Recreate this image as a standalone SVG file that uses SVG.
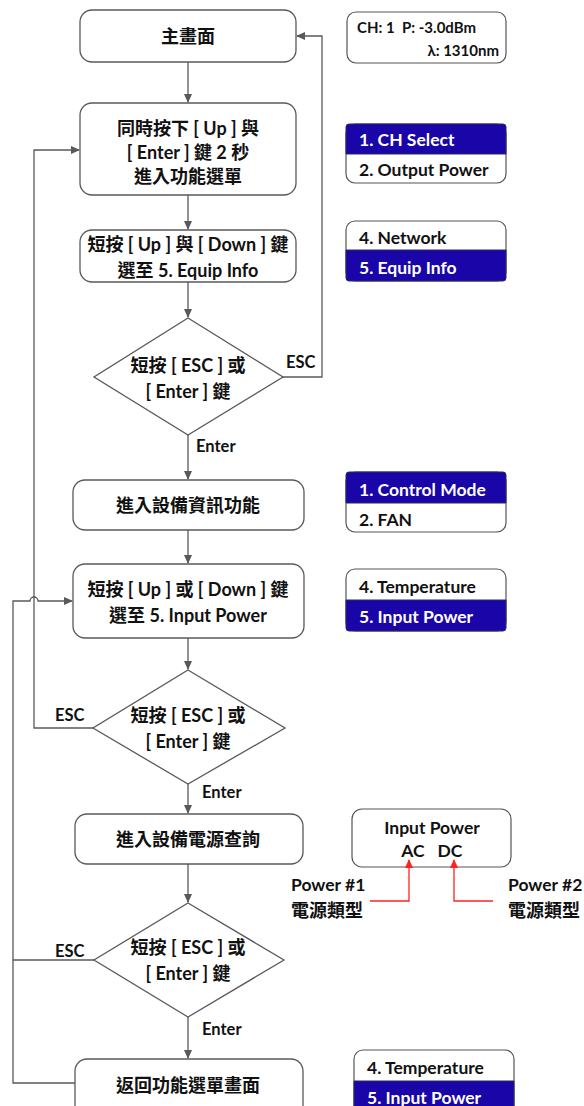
<svg xmlns="http://www.w3.org/2000/svg" width="584" height="1106" viewBox="0 0 584 1106">
<style>
.node{fill:#fff;stroke:#595959;stroke-width:1.3}
.t{font-family:"Lato","Noto Sans CJK TC",sans-serif;font-weight:bold;font-size:18px;fill:#111;text-anchor:middle}
.lbl{font-family:"Lato","Noto Sans CJK TC",sans-serif;font-weight:bold;font-size:16.5px;fill:#111}
.conn{fill:none;stroke:#595959;stroke-width:1.3}
.red{fill:none;stroke:#ff2020;stroke-width:1.3}
.pan{fill:#fff;stroke:#555;stroke-width:1.2}
.blue{fill:#1a05a8;stroke:#2a2a60;stroke-width:1}
.pt{font-family:"Lato","Noto Sans CJK TC",sans-serif;font-weight:bold;font-size:17.5px;fill:#111}
.pw{font-family:"Lato","Noto Sans CJK TC",sans-serif;font-weight:bold;font-size:17.5px;fill:#fff}
.ps{font-family:"Lato","Noto Sans CJK TC",sans-serif;font-weight:bold;font-size:15px;fill:#111}
</style>
<defs>
<marker id="ah" markerWidth="10" markerHeight="10" refX="8" refY="5" orient="auto" markerUnits="userSpaceOnUse">
<path d="M0,1 L9,5 L0,9 Z" fill="#595959"/>
</marker>
<marker id="ahr" markerWidth="10" markerHeight="10" refX="8" refY="5" orient="auto" markerUnits="userSpaceOnUse">
<path d="M0,1 L9,5 L0,9 Z" fill="#ff2020"/>
</marker>
</defs>

<g id="connectors">
<path class="conn" d="M188,62 V102" marker-end="url(#ah)"/>
<path class="conn" d="M188,195 V229" marker-end="url(#ah)"/>
<path class="conn" d="M188,282 V317" marker-end="url(#ah)"/>
<path class="conn" d="M283,377 H322 V36 H297" marker-end="url(#ah)"/>
<path class="conn" d="M188,435 V479" marker-end="url(#ah)"/>
<path class="conn" d="M188,530 V563" marker-end="url(#ah)"/>
<path class="conn" d="M188,638 V669" marker-end="url(#ah)"/>
<path class="conn" d="M93,728 H34 V150 H79" marker-end="url(#ah)"/>
<path class="conn" d="M188,784 V813" marker-end="url(#ah)"/>
<path class="conn" d="M188,864 V902" marker-end="url(#ah)"/>
<path class="conn" d="M188,1017 V1058" marker-end="url(#ah)"/>
<path class="conn" d="M94,960 H13"/>
<path class="conn" d="M75,1083 H13 V601 H30 A4,4 0 0 1 38,601 H72" marker-end="url(#ah)"/>
<text class="lbl" x="286" y="368">ESC</text>
<text class="lbl" x="196" y="452">Enter</text>
<text class="lbl" x="55" y="721">ESC</text>
<text class="lbl" x="202" y="798">Enter</text>
<text class="lbl" x="55" y="957">ESC</text>
<text class="lbl" x="202" y="1035">Enter</text>
</g>

<g id="n1"><rect class="node" x="80" y="10" width="216" height="52" rx="12"/><text class="t" x="188" y="43">主畫面</text></g>
<g id="n2"><rect class="node" x="80" y="103" width="216" height="92" rx="12"/>
<text class="t" x="188" y="135">同時按下 [ Up ] 與</text>
<text class="t" x="188" y="159">[ Enter ] 鍵 2 秒</text>
<text class="t" x="188" y="183">進入功能選單</text></g>
<g id="n3"><rect class="node" x="80" y="230" width="216" height="52" rx="12"/>
<text class="t" x="188" y="251">短按 [ Up ] 與 [ Down ] 鍵</text>
<text class="t" x="188" y="277">選至 5. Equip Info</text></g>
<g id="d1"><polygon class="node" points="188,318 283,377 188,435 94,377"/>
<text class="t" x="188" y="372">短按 [ ESC ] 或</text>
<text class="t" x="188" y="398">[ Enter ] 鍵</text></g>
<g id="n4"><rect class="node" x="73" y="480" width="231" height="50" rx="12"/><text class="t" x="188" y="512">進入設備資訊功能</text></g>
<g id="n5"><rect class="node" x="73" y="564" width="231" height="74" rx="12"/>
<text class="t" x="188" y="596">短按 [ Up ] 或 [ Down ] 鍵</text>
<text class="t" x="188" y="622">選至 5. Input Power</text></g>
<g id="d2"><polygon class="node" points="188,670 285,728 188,784 93,728"/>
<text class="t" x="188" y="722">短按 [ ESC ] 或</text>
<text class="t" x="188" y="748">[ Enter ] 鍵</text></g>
<g id="n6"><rect class="node" x="75" y="814" width="228" height="50" rx="12"/><text class="t" x="188" y="846">進入設備電源查詢</text></g>
<g id="d3"><polygon class="node" points="188,903 284,960 188,1017 94,960"/>
<text class="t" x="188" y="954">短按 [ ESC ] 或</text>
<text class="t" x="188" y="980">[ Enter ] 鍵</text></g>
<g id="n7"><rect class="node" x="75" y="1059" width="228" height="60" rx="12"/><text class="t" x="188" y="1092">返回功能選單畫面</text></g>

<g id="p1"><rect class="pan" x="347" y="12" width="159" height="51" rx="9"/>
<text class="ps" x="357" y="33" xml:space="preserve">CH: 1  P: -3.0dBm</text>
<text class="ps" x="499" y="56" text-anchor="end">λ: 1310nm</text></g>

<g id="p2"><rect class="pan" x="346" y="124" width="160" height="59" rx="9"/>
<path class="blue" d="M346,154 V127 A3,3 0 0 1 349,124 H503 A3,3 0 0 1 506,127 V154 Z"/>
<text class="pw" x="359" y="146">1. CH Select</text>
<text class="pt" x="359" y="176">2. Output Power</text></g>

<g id="p3"><rect class="pan" x="346" y="221" width="160" height="60" rx="9"/>
<path class="blue" d="M346,250 V278 A3,3 0 0 0 349,281 H503 A3,3 0 0 0 506,278 V250 Z"/>
<text class="pt" x="359" y="244">4. Network</text>
<text class="pw" x="359" y="274">5. Equip Info</text></g>

<g id="p4"><rect class="pan" x="346" y="472" width="160" height="60" rx="9"/>
<path class="blue" d="M346,503 V475 A3,3 0 0 1 349,472 H503 A3,3 0 0 1 506,475 V503 Z"/>
<text class="pw" x="359" y="496">1. Control Mode</text>
<text class="pt" x="359" y="526">2. FAN</text></g>

<g id="p5"><rect class="pan" x="346" y="569" width="160" height="62" rx="9"/>
<path class="blue" d="M346,600 V628 A3,3 0 0 0 349,631 H503 A3,3 0 0 0 506,628 V600 Z"/>
<text class="pt" x="359" y="593">4. Temperature</text>
<text class="pw" x="359" y="623">5. Input Power</text></g>

<g id="p6"><rect class="pan" x="352" y="809" width="159" height="58" rx="10"/>
<text class="pt" x="432" y="834" text-anchor="middle">Input Power</text>
<text class="pt" x="413" y="857" text-anchor="middle">AC</text>
<text class="pt" x="450" y="857" text-anchor="middle">DC</text>
<path class="red" d="M370,901 H409 V860" marker-end="url(#ahr)"/>
<path class="red" d="M493,901 H454 V860" marker-end="url(#ahr)"/>
<text class="pt" x="291" y="891">Power #1</text>
<text class="pt" x="291" y="917" style="font-size:18px">電源類型</text>
<text class="pt" x="508" y="891">Power #2</text>
<text class="pt" x="508" y="917" style="font-size:18px">電源類型</text></g>

<g id="p7"><rect class="pan" x="354" y="1050" width="160" height="70" rx="9"/>
<path class="blue" d="M354,1081 V1120 H514 V1081 Z"/>
<text class="pt" x="367" y="1074">4. Temperature</text>
<text class="pw" x="367" y="1104">5. Input Power</text></g>
</svg>
